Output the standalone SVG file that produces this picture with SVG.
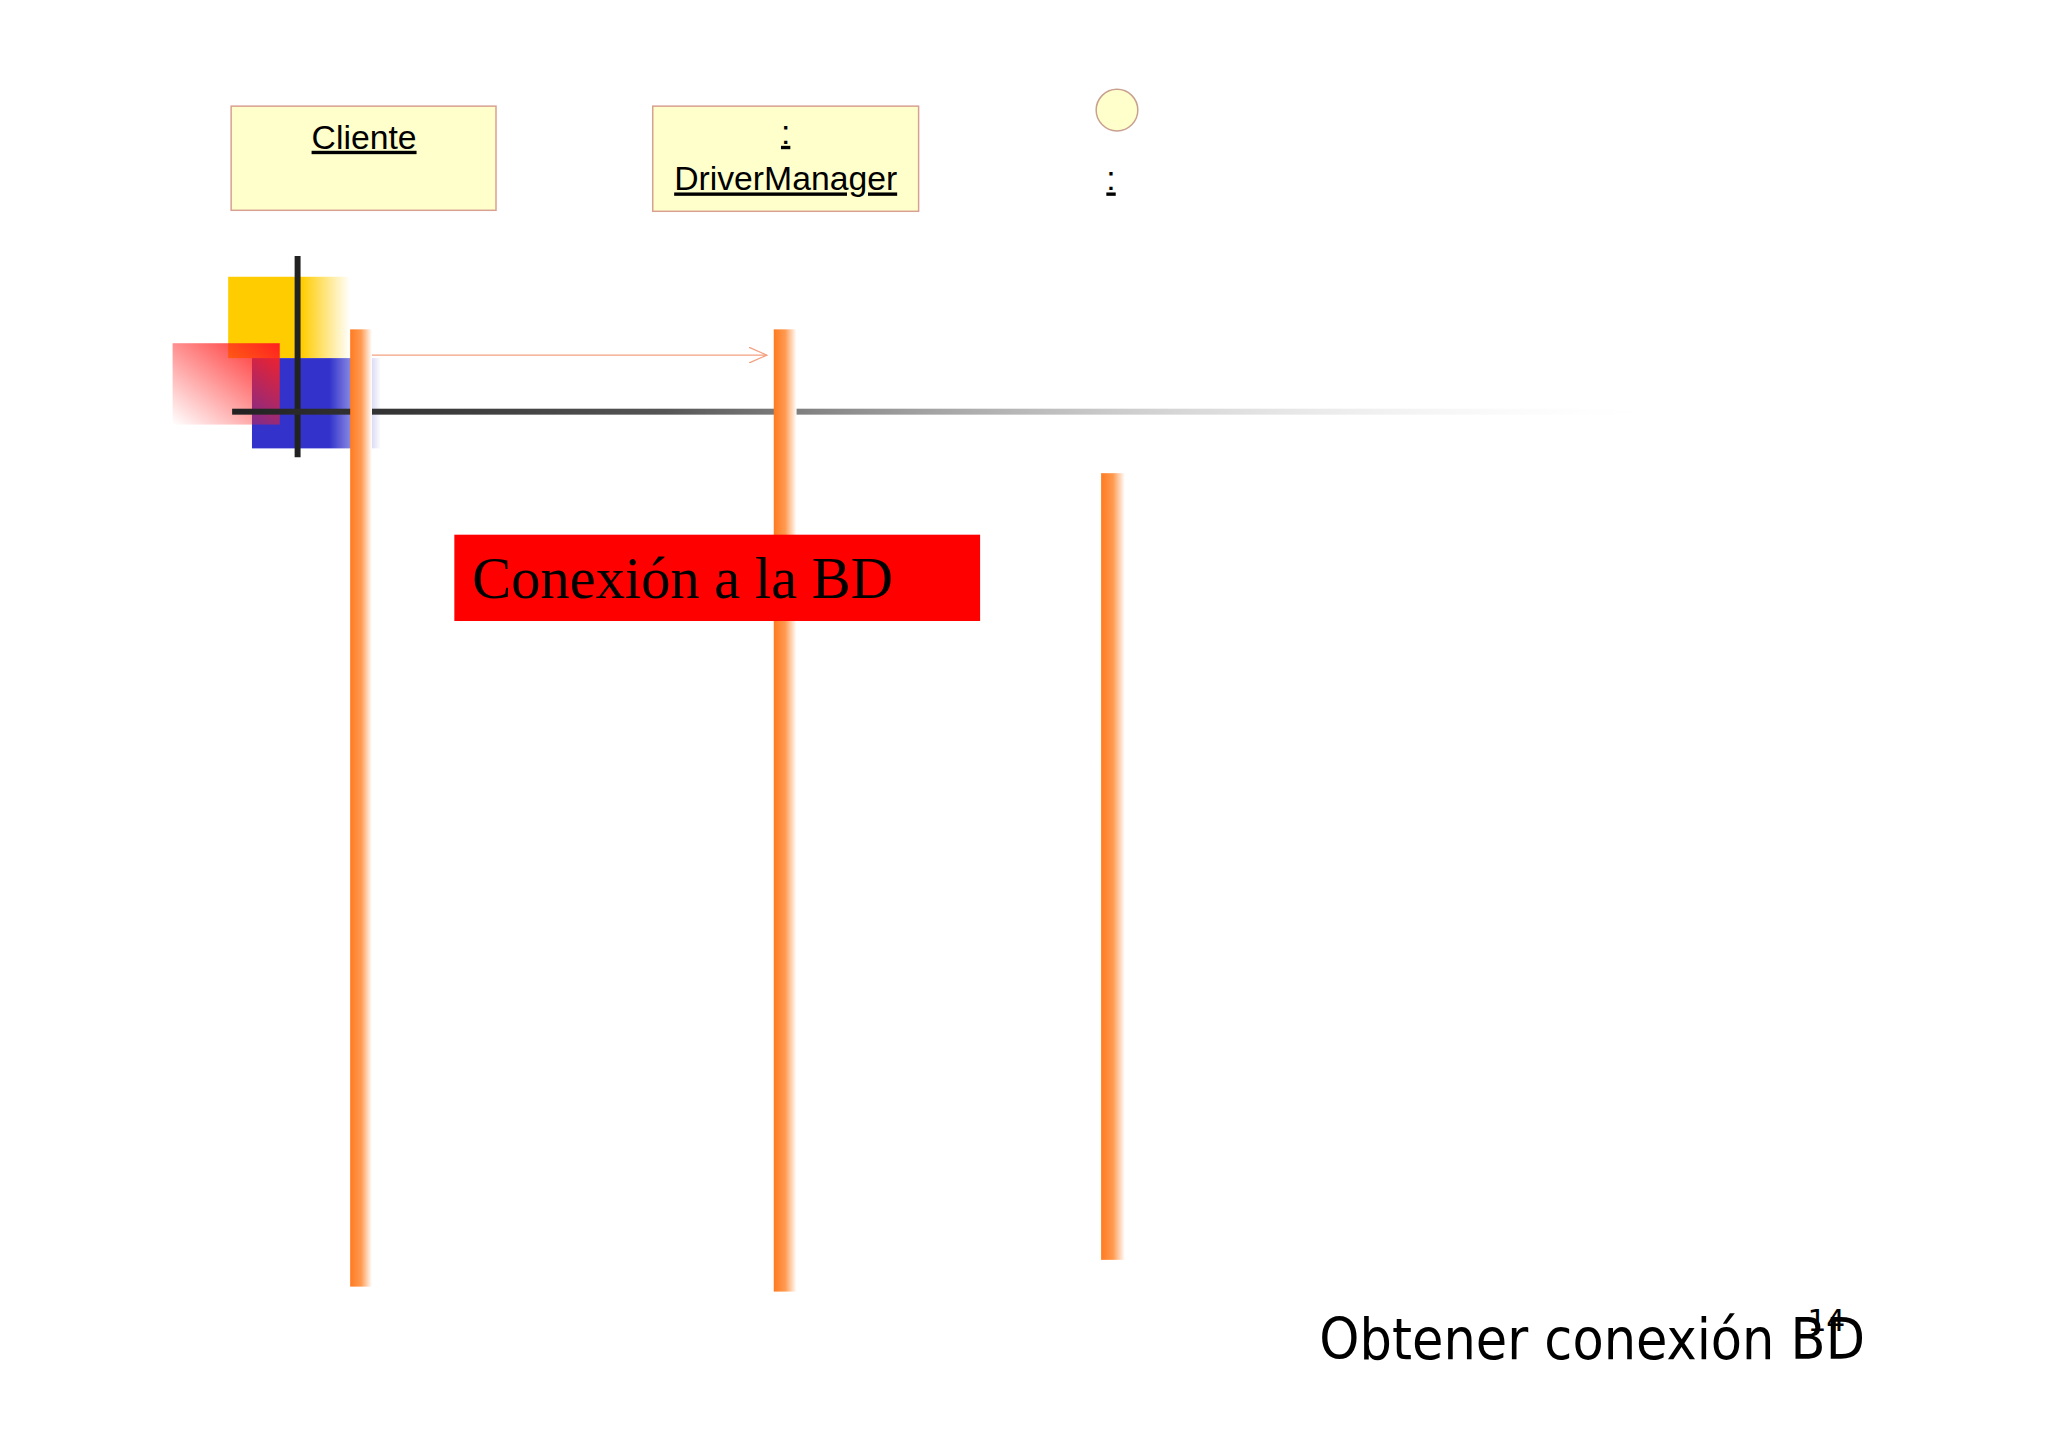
<svg xmlns="http://www.w3.org/2000/svg" width="2048" height="1447" viewBox="0 0 2048 1447">
<defs>
<linearGradient id="life" x1="0" x2="1" y1="0" y2="0"><stop offset="0" stop-color="#ff7a20"/><stop offset="0.5" stop-color="#ff9a50"/><stop offset="1" stop-color="#ffffff"/></linearGradient>
<linearGradient id="yel" x1="0" x2="1"><stop offset="0.6" stop-color="#ffcc00"/><stop offset="1" stop-color="#ffcc00" stop-opacity="0"/></linearGradient>
<linearGradient id="blu" x1="0" x2="1"><stop offset="0.6" stop-color="#3333cc"/><stop offset="1" stop-color="#3333cc" stop-opacity="0"/></linearGradient>
<linearGradient id="red" x1="1" y1="0" x2="0" y2="1"><stop offset="0" stop-color="#ff2020"/><stop offset="1" stop-color="#ff2020" stop-opacity="0"/></linearGradient>
<linearGradient id="hl" x1="0" x2="1"><stop offset="0" stop-color="#222"/><stop offset="0.3" stop-color="#555"/><stop offset="1" stop-color="#fff" stop-opacity="0"/></linearGradient>
<marker id="open" markerWidth="20" markerHeight="16" refX="18" refY="8" orient="auto" markerUnits="userSpaceOnUse"><path d="M0,0 L18,8 L0,16" fill="none" stroke="#f4a080" stroke-width="1.3"/></marker>
<style>.box{fill:#ffffcc;stroke:#d8a090;stroke-width:1.5}.lbl{font-family:"Liberation Sans",Arial,sans-serif;font-size:34px;text-decoration:underline;text-anchor:middle;fill:#000}</style>
</defs>
<rect width="2048" height="1447" fill="#fff"/>
<g transform="scale(0.992)">
<g id="deco">
<rect x="230" y="279" width="123" height="82" fill="url(#yel)"/>
<rect x="254" y="361" width="130" height="91" fill="url(#blu)"/>
<rect x="174" y="346" width="108" height="82" fill="url(#red)"/>
<line x1="300" y1="258" x2="300" y2="461" stroke="#222" stroke-width="6"/>
<rect x="234" y="412" width="1452" height="6" fill="url(#hl)"/>
</g>
<g id="cliente"><rect class="box" x="233" y="107" width="267" height="105"/><text class="lbl" x="367" y="150">Cliente</text></g>
<g id="drivermanager"><rect class="box" x="658" y="107" width="268" height="106"/><text class="lbl" x="792" y="145">:</text><text class="lbl" x="792" y="192">DriverManager</text></g>
<g id="obj3"><circle cx="1126" cy="111" r="21" fill="#ffffcc" stroke="#c8a090" stroke-width="1.5"/><text class="lbl" x="1120" y="192">:</text></g>
<g id="lifelines">
<rect x="353" y="332" width="22" height="965" fill="url(#life)"/>
<rect x="780" y="332" width="23" height="970" fill="url(#life)"/>
<rect x="1110" y="477" width="24" height="793" fill="url(#life)"/>
</g>
<g id="connectors"><line x1="375" y1="358" x2="773" y2="358" stroke="#f4a080" stroke-width="1.3" marker-end="url(#open)"/></g>
<g id="title"><rect x="458" y="539" width="530" height="87" fill="#ff0000"/><text x="476" y="603" font-family="Liberation Serif,serif" font-size="59">Conexión a la BD</text></g>
<text x="1330" y="1370" font-family="DejaVu Sans Condensed,DejaVu Sans,sans-serif" font-size="58" textLength="550" lengthAdjust="spacingAndGlyphs">Obtener conexión BD</text>
<text x="1822" y="1342" font-family="DejaVu Sans,sans-serif" font-size="30">14</text>
</g>
</svg>
